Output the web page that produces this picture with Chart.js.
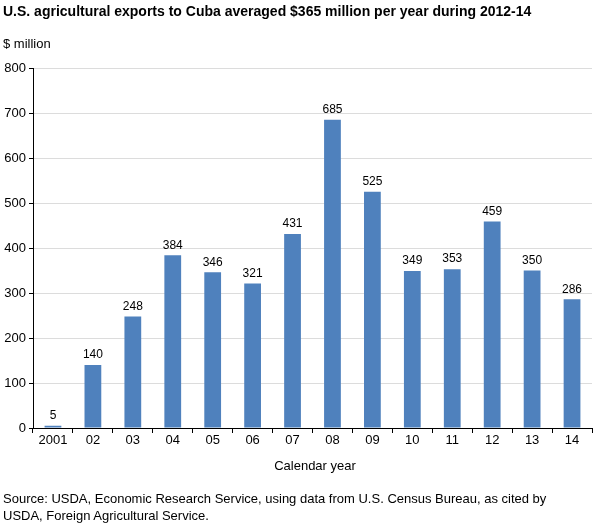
<!DOCTYPE html>
<html><head><meta charset="utf-8">
<script src="https://cdn.jsdelivr.net/npm/chart.js@4"></script>
<style>
body{margin:0;background:#fff;font-family:Arial,"Liberation Sans",sans-serif;}
#wrap{position:relative;width:598px;height:527px;}
canvas{position:absolute;left:0;top:0;}
.t{position:absolute;color:#000;white-space:nowrap;}
</style></head><body>
<div id="wrap">
<canvas id="c" width="598" height="527"></canvas>
<div class="t" style="left:3px;top:3px;font-size:14px;font-weight:bold;">U.S. agricultural exports to Cuba averaged $365 million per year during 2012-14</div>
<div class="t" style="left:3px;top:36px;font-size:13px;">$ million</div>
<div class="t" style="left:0;width:630px;text-align:center;top:458px;font-size:13px;">Calendar year</div>
<div class="t" style="left:3px;top:490px;font-size:13px;line-height:17px;white-space:normal;width:575px;">Source: USDA, Economic Research Service, using data from U.S. Census Bureau, as cited by USDA, Foreign Agricultural Service.</div>
</div>
<script>
const categories=["2001","02","03","04","05","06","07","08","09","10","11","12","13","14"];
const values=[5,140,248,384,346,321,431,685,525,349,353,459,350,286];
const labelPlugin={id:'lbl',afterDatasetsDraw(ch){const ctx=ch.ctx;const m=ch.getDatasetMeta(0);ctx.save();ctx.font='12px Arial, "Liberation Sans"';ctx.fillStyle='#000';ctx.textAlign='center';ctx.textBaseline='bottom';m.data.forEach((b,i)=>ctx.fillText(values[i],b.x,b.y-4));ctx.restore();}};
new Chart(document.getElementById('c'),{type:'bar',
data:{labels:categories,datasets:[{data:values,backgroundColor:'#4f81bd',barPercentage:0.42,categoryPercentage:1}]},
options:{responsive:false,animation:false,plugins:{legend:{display:false},tooltip:{enabled:false}},
layout:{padding:{top:68,right:6,bottom:77,left:0}},
scales:{
x:{afterFit(s){s.height=22;},grid:{offset:true,drawOnChartArea:false,tickLength:5,color:'#000'},border:{color:'#000'},ticks:{color:'#000',font:{size:13,family:'Arial, "Liberation Sans"'},padding:0}},
y:{min:0,max:800,afterFit(s){s.width=33;},ticks:{stepSize:100,color:'#000',font:{size:13,family:'Arial, "Liberation Sans"'},padding:3},grid:{color:'#dcdcdc',tickLength:4,tickColor:'#000'},border:{color:'#000'}}
}},plugins:[labelPlugin]});
</script></body></html>
